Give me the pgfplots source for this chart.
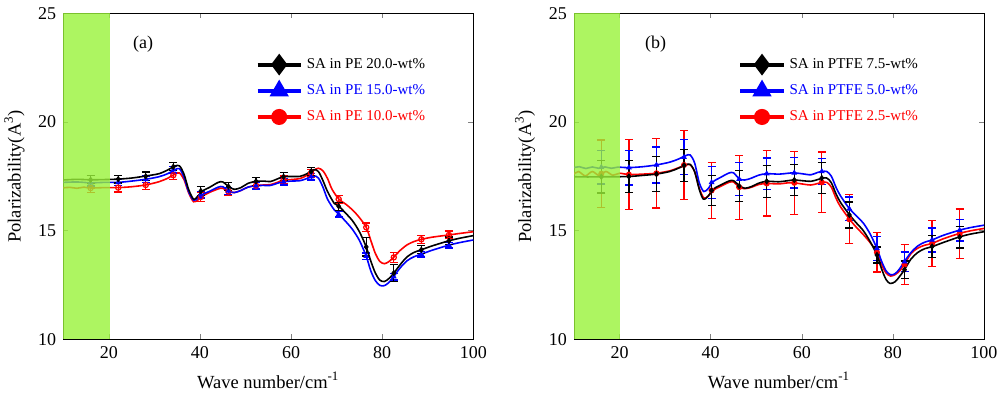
\documentclass[border=0pt]{standalone}
\usepackage{pgfplots}
\pgfplotsset{compat=1.18}
\usepackage{fontspec}
\setmainfont{Liberation Serif}
\definecolor{band}{rgb}{0.6,0.95,0.225}
\pgfplotsset{
 panel/.style={scale only axis, width=205pt, height=163pt,
  xmin=10, xmax=100, ymin=10, ymax=25,
  xtick={20,40,60,80,100}, ytick={10,15,20,25},
  tick align=inside, major tick length=2.5pt, minor tick num=0,
  tick label style={font=\fontsize{9}{10}\selectfont},
  /pgf/number format/assume math mode=true,
  label style={font=\fontsize{9.25}{11}\selectfont},
  xlabel={Wave number/cm\textsuperscript{-1}},
  ylabel={Polarizability(A\textsuperscript{3})},
  legend style={draw=none, fill=none, inner sep=0pt, font=\fontsize{7.5}{9}\selectfont,
    anchor=north west, row sep=2.6pt},
  legend cell align=left,
  legend image code/.code={\draw[mark repeat=2,mark phase=2] plot coordinates {(0cm,0cm)(0.38cm,0cm)(0.76cm,0cm)};},
 },
 curve/.style={line width=0.8pt, smooth, no markers, forget plot},
 pts/.style={only marks, mark size=1.3pt, forget plot,
  error bars/y dir=both, error bars/y explicit,
  error bars/error bar style={line width=0.6pt, solid},
  error bars/error mark options={rotate=90, mark size=2pt, line width=0.6pt}},
}
\begin{document}
\begin{tikzpicture}
\useasboundingbox (0,0) rectangle (500pt,196pt);
% ---------------- panel (a)
\begin{axis}[panel, at={(31.65pt,26.35pt)}, anchor=south west,
  legend style={at={(0.468,0.876)}}]
\addlegendimage{black, line width=2pt, mark=diamond*, mark size=3.8pt, mark options={solid}}
\addlegendentry{SA in PE 20.0-wt\%}
\addlegendimage{blue, line width=2pt, mark=triangle*, mark size=3.6pt}
\addlegendentry{\textcolor{blue}{SA in PE 15.0-wt\%}}
\addlegendimage{red, line width=2pt, mark=*, mark size=3pt}
\addlegendentry{\textcolor{red}{SA in PE 10.0-wt\%}}
% red
\addplot[red, curve] table {
10 16.97
11.5 16.99
13 16.95
14.5 17.0
16 16.96
19 16.98
22 16.98
25 17.02
28 17.1
31 17.25
33 17.42
34.5 17.6
35.5 17.65
36.5 17.35
37.5 16.75
38.6 16.33
39.6 16.42
40.5 16.58
42 16.75
44 16.92
45 16.95
46.3 16.8
47.5 16.75
49 16.85
50.5 17.0
52.3 17.07
54 17.1
55.5 17.12
57 17.22
58.3 17.33
60 17.35
62 17.4
63.5 17.55
65 17.78
66 17.87
67 17.75
68 17.4
69 16.9
70.5 16.45
72 16.22
73.5 15.95
75 15.6
76.5 15.15
77.5 14.55
78.5 13.95
79.5 13.58
80.5 13.48
81.5 13.58
82.5 13.77
84 14.1
85.5 14.35
87 14.5
88.6 14.6
91 14.7
94.6 14.8
97 14.87
100 14.95
};
\addplot[red, pts, mark=o, mark options={line width=0.6pt}] table[y error index=2] {
16.0 16.96 0.2
22.05 16.98 0.2
28.1 17.1 0.2
34.15 17.55 0.2
40.2 16.55 0.2
46.25 16.8 0.18
52.3 17.07 0.18
58.35 17.33 0.18
64.4 17.65 0.18
70.45 16.45 0.18
76.5 15.15 0.2
82.55 13.77 0.22
88.6 14.6 0.18
94.65 14.8 0.18
};
% blue
\addplot[blue, curve] table {
10 17.22
13 17.24
16 17.2
19 17.22
22 17.22
25 17.28
28 17.36
31 17.48
33 17.63
34.5 17.8
35.5 17.85
36.5 17.45
37.5 16.8
38.6 16.4
39.6 16.5
40.5 16.66
42 16.8
44 17.0
45 17.02
46.3 16.83
47.5 16.75
49 16.85
50.5 17.0
52.3 17.07
54 17.08
55.5 17.08
57 17.18
58.3 17.25
60 17.28
62 17.3
63.5 17.4
65 17.52
66 17.42
67 17.0
68 16.45
69.5 15.95
70.5 15.75
72 15.42
73.5 15.05
75 14.55
76.5 13.82
77.5 13.15
78.5 12.7
79.5 12.48
80.5 12.47
81.5 12.62
82.5 12.88
84 13.3
85.5 13.62
87 13.8
88.6 13.92
91 14.1
94.6 14.33
97 14.45
100 14.57
};
\addplot[blue, pts, mark=triangle*] table[y error index=2] {
16.0 17.2 0.15
22.05 17.22 0.15
28.1 17.36 0.15
34.15 17.8 0.15
40.2 16.65 0.15
46.25 16.83 0.15
52.3 17.07 0.15
58.35 17.25 0.15
64.4 17.48 0.15
70.45 15.75 0.12
76.5 13.82 0.15
82.55 12.88 0.15
88.6 13.92 0.13
94.65 14.33 0.13
};
% black
\addplot[black, curve] table {
10 17.33
13 17.36
16 17.34
19 17.35
22 17.37
25 17.42
28 17.51
31 17.62
33 17.8
34.5 17.97
35.5 17.98
36.5 17.6
37.5 16.9
38.6 16.45
39.6 16.6
40.5 16.82
42 16.98
44 17.22
45 17.24
46.3 17.03
47.5 16.9
49 16.98
50.5 17.17
52.3 17.27
54 17.28
55.5 17.26
57 17.38
58.3 17.48
60 17.49
62 17.5
63.5 17.62
65 17.8
66 17.72
67 17.3
68 16.8
69.5 16.25
70.5 16.12
72 15.8
73.5 15.45
75 14.95
76.5 14.25
77.5 13.6
78.5 13.05
79.5 12.72
80.5 12.66
81.5 12.8
82.5 13.03
84 13.45
85.5 13.8
87 14.0
88.6 14.12
91 14.3
94.6 14.53
97 14.65
100 14.77
};
\addplot[black, pts, mark=diamond*] table[y error index=2] {
16.0 17.34 0.18
22.05 17.37 0.18
28.1 17.5 0.2
34.15 17.94 0.18
40.2 16.82 0.2
46.25 17.03 0.18
52.3 17.27 0.18
58.35 17.48 0.18
64.4 17.72 0.18
70.45 16.12 0.18
76.5 14.25 0.42
82.55 13.05 0.38
88.6 14.12 0.18
94.65 14.53 0.18
};
\node[font=\fontsize{9}{10}\selectfont] at (axis cs:27.5,23.6) {(a)};
\coordinate (a1) at (rel axis cs:0,0);
\coordinate (b1) at (axis cs:20.3,25);
\end{axis}
\fill[band, fill opacity=0.8] (a1) rectangle (b1);
% ---------------- panel (b)
\begin{axis}[panel, at={(287pt,26.35pt)}, anchor=south west,
  legend style={at={(0.4,0.876)}}]
\addlegendimage{black, line width=2pt, mark=diamond*, mark size=3.8pt}
\addlegendentry{SA in PTFE 7.5-wt\%}
\addlegendimage{blue, line width=2pt, mark=triangle*, mark size=3.6pt}
\addlegendentry{\textcolor{blue}{SA in PTFE 5.0-wt\%}}
\addlegendimage{red, line width=2pt, mark=*, mark size=3pt}
\addlegendentry{\textcolor{red}{SA in PTFE 2.5-wt\%}}
% red
\addplot[red, curve] table {
10 17.6
11 17.72
12.5 17.52
14 17.72
15.5 17.54
17 17.72
18.5 17.55
20 17.64
22 17.58
25 17.6
28 17.64
31 17.75
33 17.9
34.5 18.02
35.5 18.03
36.5 17.7
37.5 16.95
38.5 16.5
39.5 16.6
40.5 16.85
42 17.02
44 17.22
45 17.24
46.3 17.0
47.5 16.93
49 17.0
50.5 17.12
52.3 17.17
55 17.15
57 17.2
58.3 17.2
60 17.15
62 17.1
63.5 17.17
64.5 17.22
65.5 17.22
66.5 17.0
67.5 16.5
68.5 16.1
70.5 15.52
72 15.15
73.5 14.82
75 14.45
76.5 14.0
77.5 13.45
78.5 13.05
79.5 12.91
80.5 12.98
81.5 13.15
82.5 13.44
84 13.95
85.5 14.2
87 14.33
88.6 14.41
91 14.62
94.6 14.87
97 14.99
100 15.1
};
\addplot[red, pts, mark=*] table[y error index=2] {
16.0 17.62 1.55
22.05 17.58 1.6
28.1 17.64 1.6
34.15 18.02 1.6
40.2 16.85 1.3
46.25 17.0 1.47
52.3 17.17 1.5
58.35 17.2 1.45
64.4 17.22 1.4
70.45 15.52 1.13
76.5 14.0 0.9
82.55 13.44 0.92
88.6 14.41 1.07
94.65 14.85 1.15
};
% blue
\addplot[blue, curve] table {
10 17.9
11.2 17.94
12.6 17.86
14 17.93
15.4 17.87
16.8 17.93
18.2 17.87
19.6 17.92
22 17.9
25 17.94
28 18.02
31 18.15
33 18.3
34.5 18.45
35.5 18.48
36.5 18.1
37.5 17.2
38.5 16.8
39.5 16.95
40.5 17.25
42 17.43
44 17.65
45 17.66
46.3 17.38
47.5 17.33
49 17.42
50.5 17.55
52.3 17.62
55 17.6
57 17.64
58.3 17.66
60 17.62
62 17.57
63.5 17.68
64.5 17.72
65.5 17.72
66.5 17.5
67.5 17.0
68.5 16.6
70.5 16.0
72 15.68
73.5 15.35
75 14.85
76.5 14.18
77.5 13.6
78.5 13.15
79.5 12.97
80.5 13.02
81.5 13.25
82.5 13.57
84 14.0
85.5 14.3
87 14.47
88.6 14.57
91 14.78
94.6 15.02
97 15.14
100 15.25
};
\addplot[blue, pts, mark=triangle*] table[y error index=2] {
16.0 17.92 0.77
22.05 17.9 0.8
28.1 18.02 0.83
34.15 18.38 0.8
40.2 17.22 0.73
46.25 17.37 0.77
52.3 17.62 0.72
58.35 17.66 0.7
64.4 17.72 0.6
70.45 16.0 0.55
76.5 14.18 0.55
82.55 13.57 0.45
88.6 14.57 0.55
94.65 15.02 0.5
};
% black
\addplot[black, curve] table {
10 17.48
13 17.47
16 17.48
19 17.48
22 17.49
25 17.54
28 17.6
31 17.72
33 17.88
34.5 18.02
35.5 18.05
36.5 17.7
37.5 16.9
38.4 16.45
39.5 16.6
40.5 16.9
42 17.08
44 17.28
45 17.3
46.3 17.07
47.5 16.95
49 17.03
50.5 17.18
52.3 17.27
55 17.25
57 17.3
58.3 17.33
60 17.3
62 17.27
63.5 17.35
64.5 17.41
65.5 17.42
66.5 17.2
67.5 16.7
68.5 16.3
70.5 15.72
72 15.35
73.5 15.0
75 14.5
76.5 13.88
77.5 13.25
78.5 12.75
79.4 12.57
80.5 12.65
81.5 12.9
82.5 13.19
84 13.7
85.5 14.0
87 14.17
88.6 14.26
91 14.45
94.6 14.71
97 14.84
100 14.95
};
\addplot[black, pts, mark=diamond*] table[y error index=2] {
16.0 17.48 0.75
22.05 17.49 0.75
28.1 17.6 0.8
34.15 18.0 0.75
40.2 16.85 0.7
46.25 17.05 0.7
52.3 17.27 0.73
58.35 17.33 0.7
64.4 17.42 0.72
70.45 15.72 0.6
76.5 13.88 0.37
82.55 13.2 0.4
88.6 14.27 0.5
94.65 14.7 0.5
};
\node[font=\fontsize{9}{10}\selectfont] at (axis cs:27.9,23.6) {(b)};
\coordinate (a2) at (rel axis cs:0,0);
\coordinate (b2) at (axis cs:20,25);
\end{axis}
\fill[band, fill opacity=0.8] (a2) rectangle (b2);
\end{tikzpicture}
\end{document}
